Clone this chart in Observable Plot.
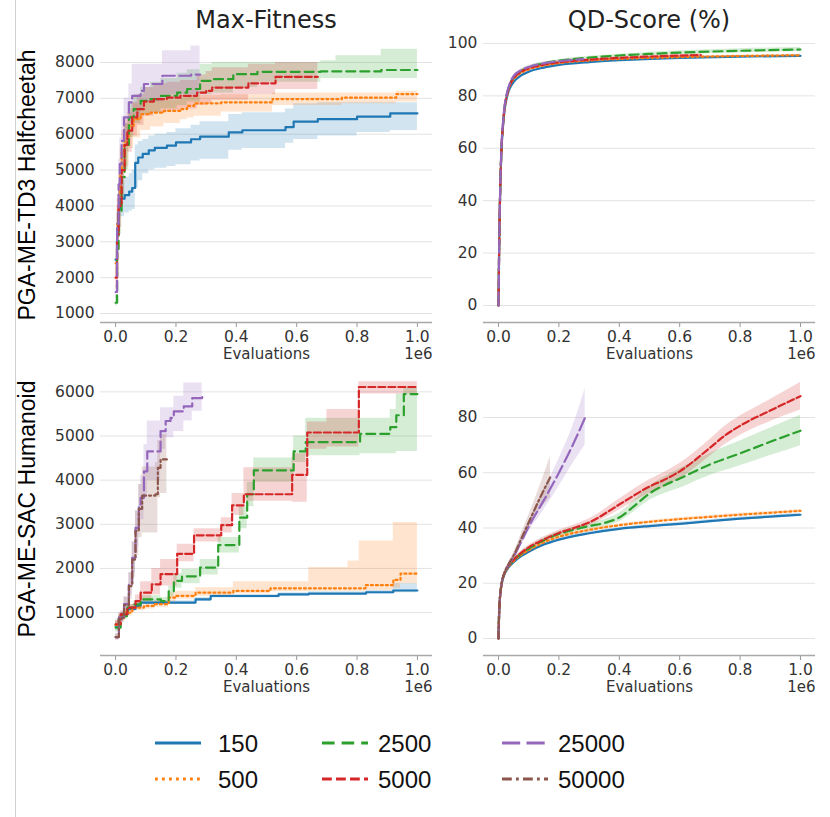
<!DOCTYPE html>
<html>
<head>
<meta charset="utf-8">
<script src="https://cdn.jsdelivr.net/npm/d3@7"></script>
<script src="https://cdn.jsdelivr.net/npm/@observablehq/plot@0.6"></script>
<style>
  html, body { margin: 0; padding: 0; background: #fff; }
  #page { position: relative; width: 830px; height: 817px; overflow: hidden; background: #fff; }
  .panel { position: absolute; }
  #edge { position: absolute; left: 15px; top: 0; width: 0; height: 817px; border-left: 1px solid #d0d0d0; }
  #overlay { position: absolute; left: 0; top: 0; pointer-events: none; }
</style>
</head>
<body>
<div id="page">
  <div id="edge"></div>
</div>
<script>
// ---------------- data ----------------
// population sizes (legend entries)
const SERIES = ["150", "500", "2500", "5000", "25000", "50000"];
const COL_TITLES = ["Max-Fitness", "QD-Score (%)"];
const ROW_TITLES = ["PGA-ME-TD3 Halfcheetah", "PGA-ME-SAC Humanoid"];
const X_TICKS = [0, 0.2, 0.4, 0.6, 0.8, 1.0];           // evaluations (x 1e6)
const Y_TICKS_HC_FIT = [1000, 2000, 3000, 4000, 5000, 6000, 7000, 8000];
const Y_TICKS_HC_QD = [0, 20, 40, 60, 80, 100];
const Y_TICKS_HU_FIT = [1000, 2000, 3000, 4000, 5000, 6000];
const Y_TICKS_HU_QD = [0, 20, 40, 60, 80];

// each row: [evaluations (x1e6), mean, lower, upper]
// Halfcheetah – Max-Fitness (step curves); no 50000 run is shown for Halfcheetah
const hcFit150 = [[0,2500,2000,3000],[0.005,3300,2800,3800],[0.01,3900,3500,4400],[0.015,4200,3700,4700],[0.03,4300,3800,4800],[0.045,4400,3850,4900],[0.055,4500,3900,5000],[0.065,5200,4500,5700],[0.075,5350,4700,5800],[0.09,5450,4900,5850],[0.11,5550,5000,5950],[0.13,5620,5050,6000],[0.17,5680,5100,6050],[0.2,5770,5150,6150],[0.25,5860,5250,6250],[0.28,5930,5300,6350],[0.375,6050,5550,6550],[0.42,6110,5600,6600],[0.563,6200,5750,6700],[0.59,6350,5850,6850],[0.67,6420,5950,6880],[0.8,6490,6050,6880],[0.91,6580,6100,6880],[1.0,6580,6100,6880]];
const hcFit500 = [[0,2400,2000,2800],[0.005,3500,3000,4000],[0.01,4300,3700,4900],[0.015,5000,4300,5600],[0.02,5500,4800,6100],[0.028,5800,5100,6400],[0.044,6230,5600,6700],[0.06,6420,5900,6850],[0.083,6560,6100,6900],[0.116,6600,6200,6950],[0.16,6650,6300,6950],[0.215,6700,6400,7000],[0.237,6790,6450,7050],[0.26,6860,6500,7080],[0.35,6885,6620,7100],[0.52,6980,6800,7150],[0.75,7020,6850,7150],[0.93,7120,6900,7200],[1.0,7120,6900,7200]];
const hcFit2500 = [[0,1300,1200,1500],[0.005,2800,2300,3300],[0.01,3800,3200,4400],[0.02,4800,4200,5400],[0.03,5700,5000,6300],[0.044,6470,5900,6900],[0.06,6700,6300,7100],[0.083,6930,6550,7300],[0.116,6980,6600,7450],[0.15,7070,6700,7550],[0.204,7160,6800,7700],[0.237,7260,6900,7800],[0.28,7490,7100,7950],[0.32,7535,7150,8000],[0.39,7675,7300,8000],[0.47,7740,7450,8000],[0.68,7750,7550,8050],[0.73,7750,7550,8190],[0.88,7790,7550,8370],[1.0,7790,7550,8370]];
const hcFit5000 = [[0,2000,1700,2300],[0.005,3200,2600,3800],[0.01,4000,3400,4600],[0.02,5000,4300,5600],[0.03,5700,5000,6300],[0.039,6100,5500,6600],[0.055,6470,5950,6900],[0.072,6700,6250,7100],[0.094,6910,6500,7300],[0.127,6980,6600,7400],[0.17,7020,6650,7450],[0.215,7070,6700,7500],[0.27,7160,6800,7650],[0.3,7210,6850,7750],[0.32,7300,6950,7850],[0.44,7420,7100,7950],[0.53,7600,7250,8000],[0.67,7600,7250,8000]];
const hcFit25000 = [[0,1600,1400,1800],[0.005,3500,2800,4200],[0.01,4600,3900,5300],[0.014,5165,4400,5900],[0.02,5816,5100,6500],[0.028,6470,5800,7000],[0.044,6885,6300,7400],[0.055,7070,6500,7950],[0.083,7210,6700,7950],[0.094,7400,6900,7950],[0.155,7630,7100,8325],[0.25,7660,7100,8460],[0.28,7660,7100,8460]];

// Halfcheetah – QD-Score (%)
const hcQd150 = [[0,0,0,0],[0.002,20,19,21],[0.004,35,34,36],[0.007,50,49,51],[0.01,60,59,61],[0.015,68.5,68,69],[0.02,74.5,74,75],[0.03,80.5,80,81],[0.04,83.5,83,84],[0.05,85.3,84.8,85.8],[0.075,87.8,87.3,88.3],[0.1,89.2,88.7,89.7],[0.15,90.8,90.3,91.3],[0.2,91.8,91.3,92.3],[0.3,92.9,92.4,93.4],[0.4,93.6,93.1,94.1],[0.5,94.1,93.6,94.6],[0.6,94.5,94,95],[0.8,95,94.6,95.4],[1.0,95.3,94.9,95.7]];
const hcQd500 = [[0,0,0,0],[0.002,20,19,21],[0.004,35,34,36],[0.007,50,49,51],[0.01,60,59,61],[0.015,69,68.5,69.5],[0.02,75,74.5,75.5],[0.03,81,80.5,81.5],[0.04,84.5,84,85],[0.05,86.3,85.8,86.8],[0.075,88.8,88.3,89.3],[0.1,90.1,89.6,90.6],[0.15,91.6,91.1,92.1],[0.2,92.5,92,93],[0.3,93.5,93,94],[0.4,94.1,93.7,94.5],[0.5,94.5,94.1,94.9],[0.6,94.8,94.4,95.2],[0.8,95.2,94.8,95.6],[1.0,95.5,95.1,95.9]];
const hcQd2500 = [[0,0,0,0],[0.002,20,19,21],[0.004,35,34,36],[0.007,50,49,51],[0.01,60,59,61],[0.015,69.5,69,70],[0.02,75.5,75,76],[0.03,81.5,81,82],[0.04,85,84.5,85.5],[0.05,87,86.5,87.5],[0.075,89.5,89,90],[0.1,90.9,90.4,91.4],[0.15,92.4,91.9,92.9],[0.2,93.4,92.9,93.9],[0.3,94.6,94.1,95.1],[0.4,95.4,94.9,95.9],[0.5,96,95.4,96.6],[0.6,96.5,95.8,97.2],[0.8,97.2,96.4,98],[1.0,97.7,96.9,98.5]];
const hcQd5000 = [[0,0,0,0],[0.002,20,19,21],[0.004,35,34,36],[0.007,50,49,51],[0.01,60,59,61],[0.015,69.3,68.8,69.8],[0.02,75.3,74.8,75.8],[0.03,81.3,80.8,81.8],[0.04,84.8,84.3,85.3],[0.05,86.7,86.2,87.2],[0.075,89.2,88.7,89.7],[0.1,90.5,90,91],[0.15,91.9,91.4,92.4],[0.2,92.8,92.3,93.3],[0.3,93.8,93.3,94.3],[0.4,94.5,94,95],[0.5,95,94.5,95.5],[0.67,95.6,95.1,96.1]];
const hcQd25000 = [[0,0,0,0],[0.002,21,20,22],[0.004,36,35,37],[0.007,51,50,52],[0.01,61,60,62],[0.015,70,69.5,70.5],[0.02,76,75.5,76.5],[0.03,82,81.5,82.5],[0.04,85.5,85,86],[0.05,87.5,87,88],[0.075,89.8,89.3,90.3],[0.1,91,90.5,91.5],[0.15,92.4,91.9,92.9],[0.2,93.2,92.7,93.7],[0.28,94,93.5,94.5]];

// Humanoid – Max-Fitness (step curves)
const huFit150 = [[0,700,600,800],[0.01,850,780,920],[0.02,960,900,1020],[0.04,1080,1020,1140],[0.066,1150,1100,1200],[0.083,1225,1180,1270],[0.265,1300,1250,1340],[0.315,1375,1330,1410],[0.54,1410,1370,1450],[0.64,1430,1390,1470],[0.83,1460,1420,1500],[0.92,1500,1450,1660],[1.0,1500,1450,1660]];
const huFit500 = [[0,720,620,820],[0.01,870,790,950],[0.028,1000,920,1080],[0.055,1110,1040,1180],[0.094,1150,1080,1230],[0.13,1190,1120,1270],[0.176,1340,1250,1450],[0.2,1380,1300,1480],[0.265,1450,1370,1560],[0.39,1490,1420,1700],[0.513,1550,1470,1700],[0.57,1550,1470,1700],[0.64,1550,1480,2020],[0.77,1550,1480,2170],[0.807,1550,1480,2620],[0.828,1620,1500,2620],[0.92,1740,1550,3040],[0.944,1880,1650,3040],[1.0,1880,1650,3040]];
const huFit2500 = [[0,660,560,760],[0.017,920,850,990],[0.039,1110,1040,1180],[0.061,1185,1110,1260],[0.083,1300,1220,1380],[0.15,1260,1180,1340],[0.176,1480,1350,1600],[0.193,1720,1550,1880],[0.22,1820,1650,1980],[0.28,2020,1850,2200],[0.34,2530,2350,2700],[0.41,3150,2900,3400],[0.436,3680,3400,3950],[0.458,4220,3950,4500],[0.59,4650,4400,5000],[0.63,4860,4550,5400],[0.81,5050,4600,5400],[0.91,5200,4600,5600],[0.93,5470,4650,5950],[0.955,5950,4650,6100],[1.0,5950,4650,6100]];
const huFit5000 = [[0,735,640,830],[0.017,960,880,1040],[0.039,1110,1030,1190],[0.066,1260,1150,1400],[0.083,1450,1250,1700],[0.12,1640,1400,2000],[0.149,1870,1600,2200],[0.204,2330,2150,2550],[0.26,2750,2600,2900],[0.35,2980,2800,3150],[0.386,3430,3200,3700],[0.425,3680,3520,4280],[0.585,4120,3500,4600],[0.635,5080,4700,5320],[0.7,5080,4750,5600],[0.806,6110,5950,6230],[1.0,6110,5950,6230]];
const huFit25000 = [[0,444,380,520],[0.011,890,780,1000],[0.028,1190,1050,1350],[0.044,1640,1400,1900],[0.055,2240,1900,2600],[0.066,2920,2500,3300],[0.077,3450,3000,3900],[0.083,3600,3100,4100],[0.094,4200,3600,4800],[0.105,4650,4000,5340],[0.149,5110,4700,5640],[0.166,5340,4960,5640],[0.182,5410,4960,5640],[0.193,5560,5100,5900],[0.226,5670,5340,6200],[0.254,5860,5560,6200],[0.287,5880,5560,6200]];
const huFit50000 = [[0,444,380,520],[0.011,880,770,990],[0.028,1170,1000,1350],[0.044,1600,1300,1900],[0.055,2200,1800,2600],[0.066,2850,2300,3300],[0.077,3350,2700,3900],[0.088,3650,2800,4300],[0.132,3680,2800,4400],[0.14,4280,3600,4900],[0.149,4470,3700,5040],[0.17,4470,3700,5040]];

// Humanoid – QD-Score (%)
const huQd150 = [[0,0,0,0],[0.002,9,8.5,9.5],[0.005,15,14.5,15.5],[0.01,19.5,19,20],[0.02,23.3,22.8,23.8],[0.03,25.2,24.7,25.7],[0.05,27.6,27,28.2],[0.075,29.8,29.2,30.4],[0.1,31.4,30.8,32],[0.15,34,33.4,34.6],[0.2,35.8,35.2,36.4],[0.3,38.1,37.5,38.7],[0.4,39.7,39.1,40.3],[0.5,40.7,40.1,41.3],[0.6,41.5,40.9,42.1],[0.7,42.5,41.9,43.1],[0.8,43.4,42.8,44],[0.9,44.1,43.5,44.7],[1.0,44.8,44.2,45.4]];
const huQd500 = [[0,0,0,0],[0.002,9,8.5,9.5],[0.005,15,14.5,15.5],[0.01,19.5,19,20],[0.02,23.5,23,24],[0.03,25.5,25,26],[0.05,28,27.5,28.5],[0.075,30.3,29.8,30.8],[0.1,32,31.5,32.5],[0.15,34.8,34.3,35.3],[0.2,36.8,36.3,37.3],[0.3,39.3,38.8,39.8],[0.4,41,40.5,41.5],[0.5,42.2,41.7,42.7],[0.6,43.2,42.7,43.7],[0.7,44,43.5,44.5],[0.8,44.8,44.3,45.3],[0.9,45.5,45,46],[1.0,46.2,45.7,46.7]];
const huQd2500 = [[0,0,0,0],[0.002,9,8.5,9.5],[0.005,15,14.5,15.5],[0.01,19.5,19,20],[0.02,23.6,23.1,24.1],[0.03,25.7,25.2,26.2],[0.05,28.3,27.7,28.9],[0.075,30.7,30,31.4],[0.1,32.5,31.8,33.2],[0.15,35.6,34.8,36.4],[0.2,37.8,37,38.6],[0.25,39.4,38.5,40.3],[0.3,40.7,39.7,41.7],[0.35,41.8,40.6,43],[0.4,43.8,42.3,45.3],[0.45,48,46,50],[0.5,52.5,50,55],[0.55,55.5,52.5,58.5],[0.6,57.9,54.4,61.4],[0.7,63,59,67],[0.8,67,62.5,71.5],[0.9,71.2,66.2,76.2],[1.0,75.2,69.8,80.8]];
const huQd5000 = [[0,0,0,0],[0.002,9,8.5,9.5],[0.005,15,14.5,15.5],[0.01,19.5,19,20],[0.02,23.7,23.2,24.2],[0.03,25.8,25.3,26.3],[0.05,28.5,27.9,29.1],[0.075,31,30.3,31.7],[0.1,33,32.2,33.8],[0.15,35.8,34.9,36.7],[0.2,38.2,37.2,39.2],[0.25,40,38.9,41.1],[0.3,42,40.7,43.3],[0.4,48.5,46.5,50.5],[0.5,55,52.5,57.5],[0.55,57.5,54.8,60.2],[0.6,60.5,57.7,63.3],[0.7,69,66,72],[0.75,73.5,70.2,76.8],[0.8,77,73.5,80.5],[0.9,82.5,78.5,86.5],[1.0,87.7,82.7,92.7]];
const huQd25000 = [[0,0,0,0],[0.002,9,8.5,9.5],[0.005,15,14.5,15.5],[0.01,19.6,19.1,20.1],[0.02,23.8,23.2,24.4],[0.03,26,25.3,26.7],[0.05,29.5,28.5,30.5],[0.075,35,33.5,36.5],[0.1,40.5,38.5,42.5],[0.15,50,46.5,53.5],[0.2,60,55,65],[0.25,71,64,78],[0.287,80,70,90.5]];
const huQd50000 = [[0,0,0,0],[0.002,9,8.5,9.5],[0.005,15,14.5,15.5],[0.01,19.6,19.1,20.1],[0.02,23.9,23.3,24.5],[0.03,26.2,25.5,26.9],[0.05,30,29,31],[0.075,36,34.2,37.8],[0.1,42,39.5,44.5],[0.14,51.5,47,56],[0.172,58.5,51,66]];

// ---------------- styles ----------------
const COLORS = ["#1f77b4", "#ff7f0e", "#2ca02c", "#d62728", "#9467bd", "#8c564b"];
const DASHES = [null, "2,3", "9,5", "7,3", "13,4.5", "7,3,2,3"];
const TICK_FONT = "'DejaVu Sans', sans-serif";

function seriesFrom(arrays) {
  // arrays[i] belongs to SERIES[i]; a null entry means the run is not plotted in that panel
  return arrays.map((rows, i) => rows && ({name: SERIES[i], rows, color: COLORS[i], dash: DASHES[i]})).filter(Boolean);
}

function makePanel({series, yDomain, yTicks, curve, box, margins}) {
  const marks = [
    Plot.gridY(yTicks, {stroke: "#e3e3e3", strokeOpacity: 1, strokeWidth: 1})
  ];
  for (const s of series) {
    marks.push(Plot.areaY(s.rows, {x: d => d[0], y1: d => d[2], y2: d => d[3], fill: s.color, fillOpacity: 0.2, curve}));
  }
  for (const s of series) {
    marks.push(Plot.line(s.rows, {x: d => d[0], y: d => d[1], stroke: s.color, strokeWidth: 2.2, strokeDasharray: s.dash, curve}));
  }
  marks.push(
    Plot.axisY(yTicks, {tickSize: 0, tickPadding: 6, label: null, tickFormat: d => String(d), fill: "#333"}),
    Plot.axisX(X_TICKS, {tickSize: 5, tickPadding: 3, label: null, tickFormat: d => d.toFixed(1), stroke: "#999", fill: "#333"}),
    Plot.ruleY([yDomain[0]], {stroke: "#a8a8a8", strokeWidth: 1.5}),
    Plot.text(["Evaluations"], {text: d => d, frameAnchor: "bottom", dy: 36, fontSize: 15, fill: "#333"}),
    Plot.text(["1e6"], {text: d => d, frameAnchor: "bottom-right", textAnchor: "end", dy: 36, fontSize: 15, fill: "#333"})
  );
  const svg = Plot.plot({
    width: box.width,
    height: box.height,
    marginLeft: margins.left,
    marginRight: margins.right,
    marginTop: margins.top,
    marginBottom: margins.bottom,
    x: {domain: [-0.05, 1.05]},
    y: {domain: yDomain},
    style: {fontFamily: TICK_FONT, fontSize: "15.5px", color: "#333", background: "transparent", overflow: "visible"},
    marks
  });
  const div = document.createElement("div");
  div.className = "panel";
  div.style.left = box.left + "px";
  div.style.top = box.top + "px";
  div.style.width = box.width + "px";
  div.style.height = box.height + "px";
  div.appendChild(svg);
  document.getElementById("page").appendChild(div);
}

makePanel({
  series: seriesFrom([hcFit150, hcFit500, hcFit2500, hcFit5000, hcFit25000, null]),
  yDomain: [749, 8800], yTicks: Y_TICKS_HC_FIT, curve: "step-after",
  box: {left: 0, top: 0, width: 440, height: 365},
  margins: {left: 100, right: 8, top: 33.3, bottom: 43}
});
makePanel({
  series: seriesFrom([hcQd150, hcQd500, hcQd2500, hcQd5000, hcQd25000, null]),
  yDomain: [-6.49, 103], yTicks: Y_TICKS_HC_QD, curve: "monotone-x",
  box: {left: 410, top: 0, width: 415, height: 365},
  margins: {left: 72.9, right: 9.9, top: 35.1, bottom: 43}
});
makePanel({
  series: seriesFrom([huFit150, huFit500, huFit2500, huFit5000, huFit25000, huFit50000]),
  yDomain: [27, 6500], yTicks: Y_TICKS_HU_FIT, curve: "step-after",
  box: {left: 0, top: 360, width: 440, height: 340},
  margins: {left: 100, right: 8, top: 9.3, bottom: 45}
});
makePanel({
  series: seriesFrom([huQd150, huQd500, huQd2500, huQd5000, huQd25000, huQd50000]),
  yDomain: [-6.15, 97], yTicks: Y_TICKS_HU_QD, curve: "monotone-x",
  box: {left: 410, top: 360, width: 415, height: 340},
  margins: {left: 72.9, right: 9.9, top: 10, bottom: 45}
});

// ---------------- titles, row labels, legend ----------------
const overlay = d3.select("#page").append("svg")
  .attr("id", "overlay").attr("width", 830).attr("height", 817);

const titleX = [266, 649];
COL_TITLES.forEach((t, i) => {
  overlay.append("text").attr("x", titleX[i]).attr("y", 28)
    .attr("text-anchor", "middle")
    .style("font-family", TICK_FONT).style("font-size", "24px").attr("fill", "#222")
    .text(t);
});
const rowY = [185, 509];
ROW_TITLES.forEach((t, i) => {
  overlay.append("text")
    .attr("transform", `translate(35,${rowY[i]}) rotate(-90)`)
    .attr("text-anchor", "middle")
    .style("font-family", "'Liberation Sans', Arial, sans-serif").style("font-size", "23px").attr("fill", "#000")
    .text(t);
});

const legendLineX = [155, 322, 502];
const legendTextX = [218, 378, 558];
const legendRowY = [743, 779];
SERIES.forEach((name, i) => {
  const col = Math.floor(i / 2), row = i % 2;
  const y = legendRowY[row];
  const dash = DASHES[i] ? DASHES[i].split(",").map(v => +v * 1.4).join(",") : null;
  const ln = overlay.append("line")
    .attr("x1", legendLineX[col]).attr("x2", legendLineX[col] + 46)
    .attr("y1", y).attr("y2", y)
    .attr("stroke", COLORS[i]).attr("stroke-width", 3);
  if (dash) ln.attr("stroke-dasharray", dash);
  overlay.append("text").attr("x", legendTextX[col]).attr("y", y + 8.5)
    .style("font-family", "'Liberation Sans', Arial, sans-serif").style("font-size", "24px").attr("fill", "#111")
    .text(name);
});
</script>
</body>
</html>
